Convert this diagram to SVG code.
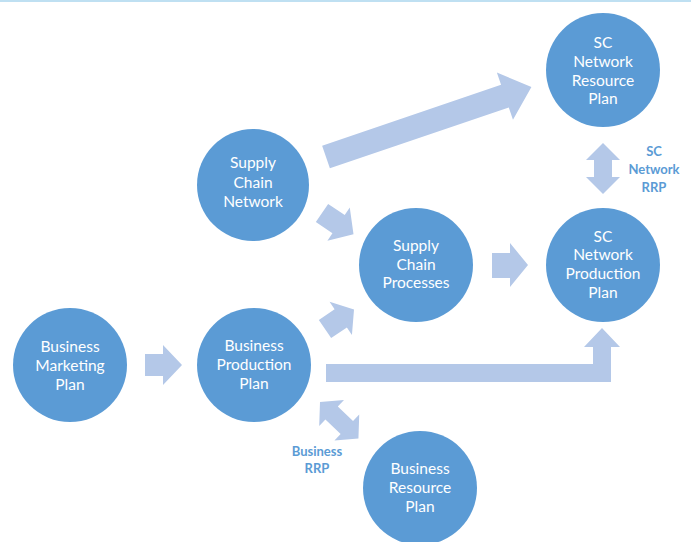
<svg xmlns="http://www.w3.org/2000/svg" width="691" height="542" viewBox="0 0 691 542">
  <style>
    .node circle { fill: #5B9BD5; }
    .node text { fill: #FFFFFF; font-family: Lato, "Open Sans", "Liberation Sans", sans-serif; font-size: 15.5px; text-anchor: middle; }
    .arrow { fill: #B4C8E8; }
    .lbl { fill: #5B9BD5; font-family: Lato, "Open Sans", "Liberation Sans", sans-serif; font-size: 13px; font-weight: bold; text-anchor: middle; }
  </style>
  <rect width="691" height="542" fill="#FFFFFF"/>
  <rect x="0" y="0" width="691" height="2" fill="#BFE0F2"/>

  <g id="connectors">
    <!-- Business Marketing Plan -> Business Production Plan -->
    <polygon class="arrow" points="145,354 163,354 163,345 182,365 163,385 163,376 145,376"/>
    <!-- Supply Chain Network -> SC Network Resource Plan -->
    <polygon class="arrow" transform="translate(326,157) rotate(-18.8)" points="0,-12 189,-12 189,-25 217,0 189,25 189,12 0,12"/>
    <!-- Supply Chain Network -> Supply Chain Processes -->
    <polygon class="arrow" transform="translate(322,213) rotate(34)" points="0,-11 20,-11 20,-20 38,0 20,20 20,11 0,11"/>
    <!-- Business Production Plan -> Supply Chain Processes -->
    <polygon class="arrow" transform="translate(325,329) rotate(-34)" points="0,-11 19,-11 19,-20 35,0 19,20 19,11 0,11"/>
    <!-- Supply Chain Processes -> SC Network Production Plan -->
    <polygon class="arrow" points="492,253 510,253 510,243 528,265 510,287 510,278 492,278"/>
    <!-- Business Production Plan -> SC Network Production Plan (elbow) -->
    <polygon class="arrow" points="326,364 593,364 593,347 584,347 602,328 620,347 611,347 611,382 326,382"/>
    <!-- SC Network RRP (two-way) -->
    <polygon class="arrow" points="603,143 620,160 612,160 612,177 620,177 603,194 586,177 594,177 594,160 586,160"/>
    <!-- Business RRP (two-way) -->
    <polygon class="arrow" transform="translate(320,402) rotate(43.5)" points="0,0 16,-18 16,-9 37,-9 37,-18 53,0 37,18 37,9 16,9 16,18"/>
  </g>

  <g id="business-marketing-plan" class="node">
    <circle cx="70" cy="365" r="57"/>
    <text x="70" y="352">Business</text>
    <text x="70" y="371">Marketing</text>
    <text x="70" y="390">Plan</text>
  </g>
  <g id="business-production-plan" class="node">
    <circle cx="254" cy="365" r="57"/>
    <text x="254" y="351">Business</text>
    <text x="254" y="370">Production</text>
    <text x="254" y="389">Plan</text>
  </g>
  <g id="supply-chain-network" class="node">
    <circle cx="253" cy="185" r="56"/>
    <text x="253" y="168">Supply</text>
    <text x="253" y="188">Chain</text>
    <text x="253" y="207">Network</text>
  </g>
  <g id="supply-chain-processes" class="node">
    <circle cx="416" cy="265" r="57"/>
    <text x="416" y="251">Supply</text>
    <text x="416" y="270">Chain</text>
    <text x="416" y="288">Processes</text>
  </g>
  <g id="sc-network-resource-plan" class="node">
    <circle cx="603" cy="70" r="57"/>
    <text x="603" y="48">SC</text>
    <text x="603" y="67">Network</text>
    <text x="603" y="86">Resource</text>
    <text x="603" y="104">Plan</text>
  </g>
  <g id="sc-network-production-plan" class="node">
    <circle cx="603" cy="265" r="57"/>
    <text x="603" y="242">SC</text>
    <text x="603" y="260">Network</text>
    <text x="603" y="279">Production</text>
    <text x="603" y="298">Plan</text>
  </g>
  <g id="business-resource-plan" class="node">
    <circle cx="420" cy="488" r="57"/>
    <text x="420" y="474">Business</text>
    <text x="420" y="493">Resource</text>
    <text x="420" y="512">Plan</text>
  </g>

  <g id="labels">
    <text class="lbl" x="654" y="156">SC</text>
    <text class="lbl" x="654" y="174">Network</text>
    <text class="lbl" x="654" y="192">RRP</text>
    <text class="lbl" x="317" y="456">Business</text>
    <text class="lbl" x="317" y="473">RRP</text>
  </g>
</svg>
